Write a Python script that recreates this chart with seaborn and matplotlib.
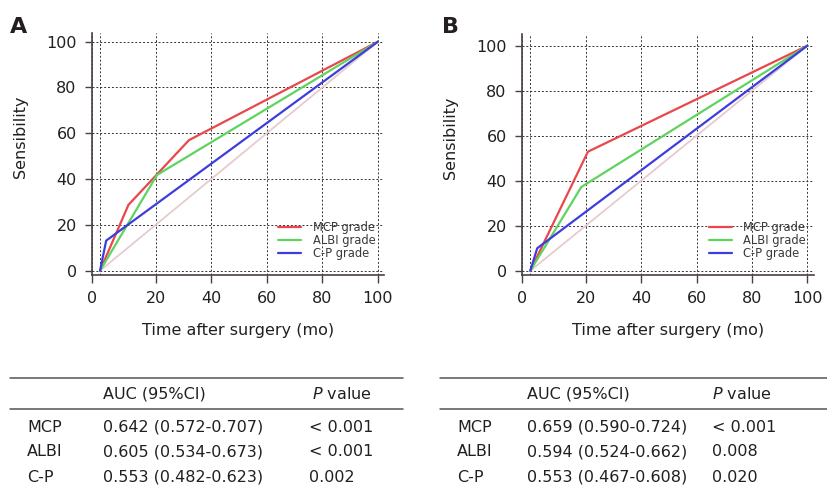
import numpy as np
import pandas as pd
import seaborn as sns
import matplotlib.pyplot as plt
from matplotlib.lines import Line2D

# ROC curve vertices (1 - specificity, sensitivity), in %
a_mcp_x = [0, 10.2, 32, 100]
a_mcp_y = [0, 28.7, 57, 100]
a_albi_x = [0, 20.5, 100]
a_albi_y = [0, 41.8, 100]
a_cp_x = [0, 2.2, 100]
a_cp_y = [0, 13.1, 100]

b_mcp_x = [0, 20.8, 100]
b_mcp_y = [0, 52.9, 100]
b_albi_x = [0, 18.4, 100]
b_albi_y = [0, 37.2, 100]
b_cp_x = [0, 2.5, 100]
b_cp_y = [0, 10.0, 100]

ref_x = [0, 100]
ref_y = [0, 100]

series = ["MCP grade", "ALBI grade", "C-P grade"]
colors = {"MCP grade": "#e8474c", "ALBI grade": "#5fd35f", "C-P grade": "#3d3dde"}
ticks = [0, 20, 40, 60, 80, 100]

row_labels = ["MCP", "ALBI", "C-P"]
auc_a = ["0.642 (0.572-0.707)", "0.605 (0.534-0.673)", "0.553 (0.482-0.623)"]
p_a = ["< 0.001", "< 0.001", "0.002"]
auc_b = ["0.659 (0.590-0.724)", "0.594 (0.524-0.662)", "0.553 (0.467-0.608)"]
p_b = ["< 0.001", "0.008", "0.020"]


def make_df(xs, ys):
    frames = []
    for name, x, y in zip(series, xs, ys):
        frames.append(pd.DataFrame({"x": x, "y": y, "grade": name, "order": range(len(x))}))
    return pd.concat(frames, ignore_index=True)


df_a = make_df([a_mcp_x, a_albi_x, a_cp_x], [a_mcp_y, a_albi_y, a_cp_y])
df_b = make_df([b_mcp_x, b_albi_x, b_cp_x], [b_mcp_y, b_albi_y, b_cp_y])

sns.set_style("white")
plt.rcParams["font.family"] = ["DejaVu Sans"]
plt.rcParams["mathtext.fontset"] = "dejavusans"

W, H = 828, 497
fig = plt.figure(figsize=(W / 100, H / 100), dpi=100)

spine_col = "#4a4040"
text_col = "#231f20"


def px_axes(l, r, t, b):
    return fig.add_axes([l / W, 1 - b / H, (r - l) / W, (b - t) / H])


def draw_panel(ax, df, xlim, ylim, letter, letter_x, leg_x):
    sns.lineplot(data=df, x="x", y="y", hue="grade", palette=colors, sort=False,
                 estimator=None, units="grade", linewidth=1.6, ax=ax, legend=False)
    ax.plot(ref_x, ref_y, color="#e6cccc", lw=1.3, zorder=1)
    ax.set_xlim(*xlim)
    ax.set_ylim(*ylim)
    # the "0" x tick sits on the y spine in the original
    ax.set_xticks([xlim[0]] + ticks[1:])
    ax.set_xticklabels([str(t) for t in ticks])
    ax.set_yticks(ticks)
    ax.grid(True, color="#333333", linestyle=(0, (2, 2)), linewidth=0.7)
    ax.axvline(0, color="#333333", linestyle=(0, (2, 2)), linewidth=0.7, zorder=0)
    for s in ["top", "right"]:
        ax.spines[s].set_visible(False)
    for s in ["left", "bottom"]:
        ax.spines[s].set_color(spine_col)
        ax.spines[s].set_linewidth(1.2)
    ax.tick_params(axis="x", direction="out", length=5.8, width=1, color=spine_col,
                   labelsize=11.5, labelcolor=text_col, pad=6, bottom=True)
    ax.tick_params(axis="y", direction="out", length=5, width=1, color=spine_col,
                   labelsize=11.5, labelcolor=text_col, pad=6, left=True)
    ax.set_xlabel("Time after surgery (mo)", fontsize=11.5, color=text_col, labelpad=12)
    ax.set_ylabel("Sensibility", fontsize=11.5, color=text_col)
    ax.yaxis.set_label_coords(-0.22, 0.57)
    handles = [Line2D([], [], color=colors[n], lw=1.6) for n in series]
    leg = ax.legend(handles, series, loc="upper left", bbox_to_anchor=(leg_x, 0.225),
                    frameon=False, fontsize=8.3, handlelength=2.0, handletextpad=1.0,
                    labelspacing=0.0, borderpad=0, borderaxespad=0)
    for t in leg.get_texts():
        t.set_color("#3a3a3a")
    fig.text(letter_x / W, 1 - 33 / H, letter, fontsize=16, fontweight="bold",
             color=text_col, va="baseline", ha="left")


ax_a = px_axes(92, 384, 33, 275)
draw_panel(ax_a, df_a, (-2.9, 102.2), (-1.9, 103.8), "A", 10, 0.637)
ax_b = px_axes(522, 814, 34, 275)
draw_panel(ax_b, df_b, (-3.0, 102.4), (-1.9, 105.2), "B", 442, 0.640)


def draw_table(x0, x1, col_x, aucs, ps):
    for yy in [378, 409]:
        fig.add_artist(Line2D([x0 / W, x1 / W], [1 - yy / H, 1 - yy / H],
                              color="#555555", lw=1.1))
    fs = 11.5
    fig.text(col_x[1] / W, 1 - 394 / H, "AUC (95%CI)", fontsize=fs, color=text_col, va="center")
    fig.text(col_x[2] / W, 1 - 394 / H, r"$\it{P}$ value", fontsize=fs, color=text_col, va="center")
    for i, (lab, auc, p) in enumerate(zip(row_labels, aucs, ps)):
        yy = 427 + 25 * i
        fig.text(col_x[0] / W, 1 - yy / H, lab, fontsize=fs, color=text_col, va="center")
        fig.text(col_x[1] / W, 1 - yy / H, auc, fontsize=fs, color=text_col, va="center")
        fig.text(col_x[3] / W, 1 - yy / H, p, fontsize=fs, color=text_col, va="center")


draw_table(10, 403, [27, 103, 312, 309], auc_a, p_a)
draw_table(440, 828, [457, 527, 712, 712], auc_b, p_b)

fig.savefig("out.png", dpi=100)
